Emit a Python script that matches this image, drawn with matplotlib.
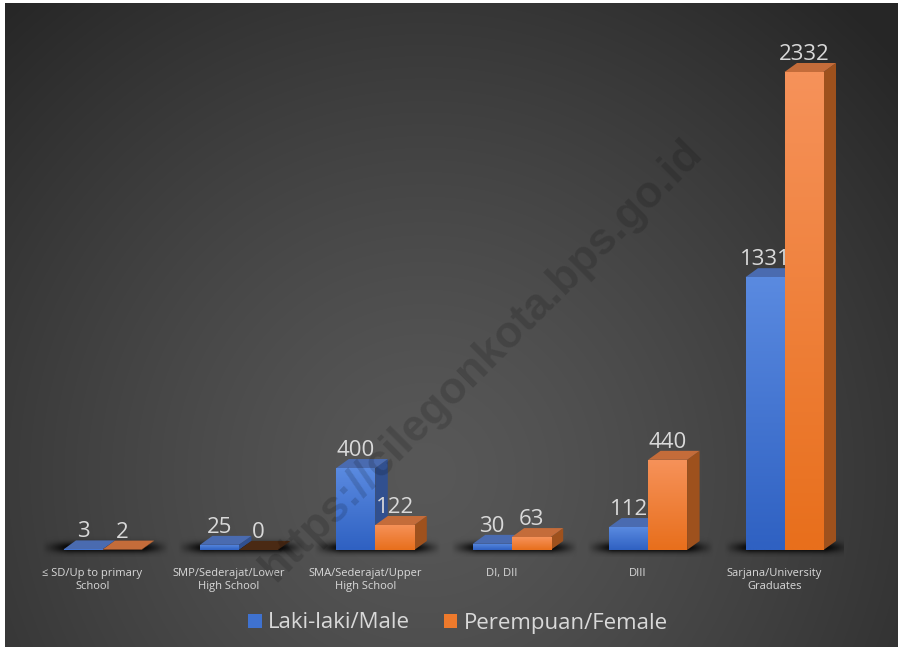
import numpy as np
import matplotlib
matplotlib.use("Agg")
import matplotlib.pyplot as plt
from matplotlib.patches import Polygon, Rectangle, Patch

categories = ["≤ SD/Up to primary\nSchool", "SMP/Sederajat/Lower\nHigh School",
              "SMA/Sederajat/Upper\nHigh School", "DI, DII", "DIII",
              "Sarjana/University\nGraduates"]
male = [3, 25, 400, 30, 112, 1331]
female = [2, 0, 122, 63, 440, 2332]
series_names = ["Laki-laki/Male", "Perempuan/Female"]

W, H = 898, 647
fig = plt.figure(figsize=(W / 100, H / 100), dpi=100, facecolor="white")

# background panel with radial gradient
bg = fig.add_axes([5 / W, 0, (W - 5) / W, (H - 3) / H])
bg.set_axis_off()
yy, xx = np.mgrid[0:H - 3, 0:W - 5]
r = np.sqrt((xx - 420) ** 2 + (yy - 470) ** 2) / 620
g = np.clip(0.345 - 0.19 * r ** 1.3, 0.15, 1)
bg.imshow(np.dstack([g, g, g]), aspect="auto", extent=[0, 1, 0, 1], interpolation="bilinear")
bg.set_xlim(0, 1)
bg.set_ylim(0, 1)

# watermark
fig.text(482 / W, 1 - 360 / H, "https://cilegonkota.bps.go.id", rotation=45,
         rotation_mode="anchor", ha="center", va="center", fontsize=32,
         fontweight="bold", family="Liberation Sans", color="black", alpha=0.15)

# main axes: category i centred at pixel 92.5 + 136.4*i, value 0 at y=550
px_unit = 478 / 2332
step = 136.4
x_left = 92.5 - step * 0.5
ax = fig.add_axes([x_left / W, (H - 550 - 300 * px_unit) / H, step * 6 / W, 2900 * px_unit / H])
ax.set_xlim(-0.5, 5.5)
ax.set_ylim(-300, 2600)
ax.set_axis_off()
ax.patch.set_alpha(0)

off = 10 / step
w = 39 / step
dx = 12.5 / step
dy = 9 / px_unit

face = {0: ("#5a8ae0", "#2f61c2", "#4a6bb0", "#31508f"),
        1: ("#f6925a", "#e86f1c", "#c46c3a", "#9e511d")}


def shadow(x0, x1):
    xs = np.linspace(0, 1, 200)
    ys = np.linspace(0, 1, 40)
    ax_ = np.clip(np.minimum(xs / 0.2, (1 - xs) / 0.2), 0, 1)
    ay_ = np.exp(-((ys - 0.45) / 0.25) ** 2)
    a = 0.95 * np.outer(ay_, ax_)
    img = np.zeros((40, 200, 4))
    img[..., 3] = a
    ax.imshow(img, extent=[x0, x1, -35, 65], origin="lower", aspect="auto",
              interpolation="bilinear", zorder=1)


def bar3d(x0, v, s):
    top_c, bot_c, top_face, side_face = face[s]
    x1 = x0 + w
    ax.add_patch(Polygon([(x1, 0), (x1 + dx, dy), (x1 + dx, v + dy), (x1, v)],
                         closed=True, fc=side_face, ec="none", zorder=3 + s))
    tf = top_face if v > 0 else ("#22335a" if s == 0 else "#4a2a14")
    ax.add_patch(Polygon([(x0, v), (x0 + dx, v + dy), (x1 + dx, v + dy), (x1, v)],
                         closed=True, fc=tf, ec="none", zorder=3 + s))
    if v > 0:
        rect = Rectangle((x0, 0), w, v, fc="none", ec="none")
        ax.add_patch(rect)
        c0 = np.array(matplotlib.colors.to_rgb(top_c))
        c1 = np.array(matplotlib.colors.to_rgb(bot_c))
        t = np.linspace(0, 1, 64)[:, None]
        grad = (c1 * (1 - t) + c0 * t)[:, None, :]
        im = ax.imshow(grad, extent=[x0, x1, 0, v], origin="lower", aspect="auto",
                       interpolation="bilinear", zorder=3.5 + s)
        im.set_clip_path(rect)


for i in range(len(categories)):
    xb = i + off - w
    shadow(xb - 22 / step, xb + 2 * w + dx + 14 / step)
    for s, vals in enumerate([male, female]):
        x0 = xb + s * w
        v = vals[i]
        bar3d(x0, v, s)
        ax.text(x0 + w / 2, v + dy + 15, str(v), ha="center", va="baseline",
                fontsize=16, family="Open Sans", color="#d9d9d9", zorder=10)
    ax.text(i, -88, categories[i], ha="center", va="top", fontsize=8,
            family="Open Sans", color="#d9d9d9", linespacing=1.3, zorder=10)

handles = [Patch(fc="#3f72d0", ec="none"), Patch(fc="#ee7a2c", ec="none")]
leg = fig.legend(handles, series_names, loc="center", bbox_to_anchor=(458 / W, 1 - 623 / H),
                 ncol=2, frameon=False, handlelength=0.6, handleheight=0.6,
                 handletextpad=0.3, columnspacing=1.5,
                 prop={"family": "Open Sans", "size": 16})
for t in leg.get_texts():
    t.set_color("#d9d9d9")

fig.savefig("out.png", dpi=100, facecolor=fig.get_facecolor())
